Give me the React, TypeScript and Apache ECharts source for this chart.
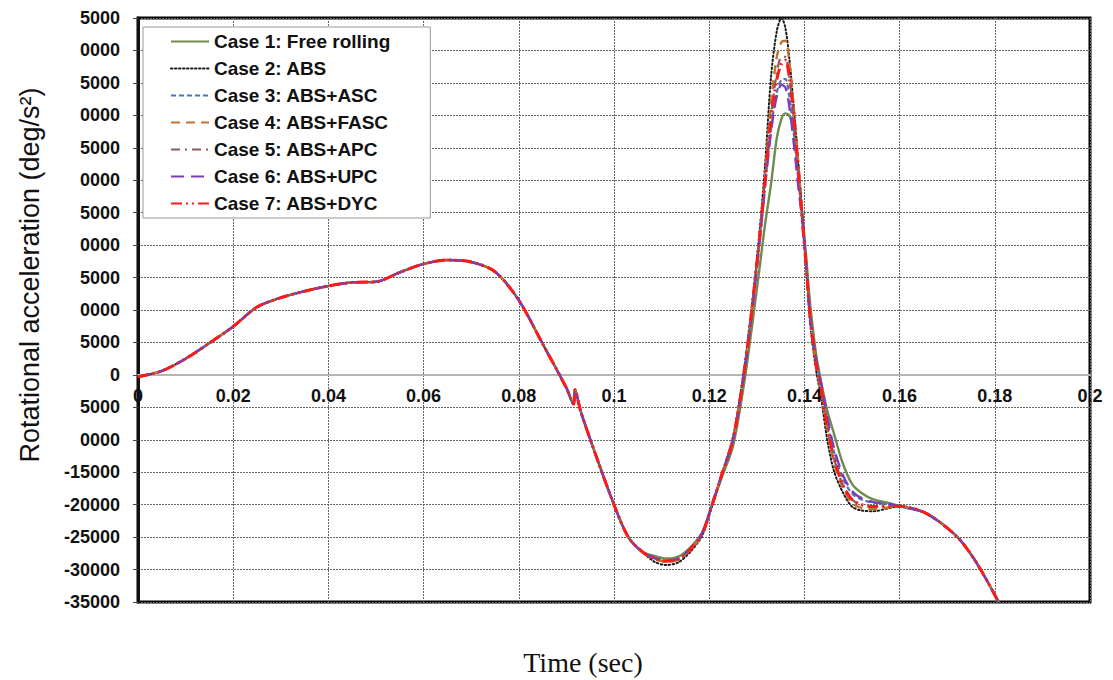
import React, { useEffect, useRef } from "react";
import * as echarts from "echarts";

// ---- Data ----
const xTickLabels = ["0", "0.02", "0.04", "0.06", "0.08", "0.1", "0.12", "0.14", "0.16", "0.18", "0.2"];
// y tick labels top (55000) to bottom (-35000), as they appear in the figure
const yTickLabels = [
  "5000", "0000", "5000", "0000", "5000", "0000", "5000", "0000", "5000", "0000", "5000",
  "0", "5000", "0000", "-15000", "-20000", "-25000", "-30000", "-35000",
];

const caseNames = [
  "Case 1: Free rolling",
  "Case 2: ABS",
  "Case 3: ABS+ASC",
  "Case 4: ABS+FASC",
  "Case 5: ABS+APC",
  "Case 6: ABS+UPC",
  "Case 7: ABS+DYC",
];

// shared early part of the response
const timeEarly = [
  0, 0.005, 0.01, 0.015, 0.02, 0.025, 0.03, 0.035, 0.04, 0.045, 0.05, 0.055, 0.06, 0.065,
  0.07, 0.075, 0.08, 0.085, 0.09, 0.0915, 0.0918, 0.093, 0.096, 0.1, 0.103, 0.106,
];
const valuesEarly = [
  -300, 600, 2500, 4900, 7450, 10450, 11900, 12900, 13700, 14250, 14350, 15800, 17100, 17700,
  17400, 15900, 11500, 4800, -2000, -4500, -2300, -5600, -12000, -20000, -25000, -27300,
];

// part where the cases differ
const timeMid = [
  0.1085, 0.111, 0.1135, 0.116, 0.1185, 0.1206, 0.1228, 0.125, 0.1273, 0.129, 0.1305, 0.1317,
  0.133, 0.1342, 0.1352, 0.136, 0.1368, 0.1378, 0.1388, 0.1396, 0.1404, 0.1412, 0.1425, 0.1435,
  0.1448, 0.1462, 0.148, 0.15, 0.152, 0.1545, 0.158,
];
const case1 = [
  -27900, -28300, -28000, -26600, -24300, -20000, -15500, -11000, -1500, 7500, 16000, 23000,
  29500, 36500, 39500, 40300, 40000, 37800, 30500, 24500, 18000, 11000, 3000, -1000,
  -5500, -9000, -13500, -16800, -18200, -19200, -19800,
];
const case2 = [
  -28800, -29300, -28900, -27300, -24800, -20300, -15000, -9500, 800, 11000, 21500, 32000,
  46000, 53000, 55000, 53500, 49000, 41000, 32000, 24500, 16500, 8000, 500, -3500,
  -10000, -14800, -18000, -20300, -20900, -21000, -20500,
];
const case3 = [
  -28300, -28700, -28400, -26900, -24500, -20000, -15000, -10000, 0, 10000, 20000, 29000,
  38000, 43500, 45500, 45600, 43000, 37000, 29500, 23500, 16500, 9000, 2000, -1500,
  -7000, -11800, -15800, -18300, -19200, -19700, -20000,
];
const case4 = [
  -28400, -28800, -28500, -27000, -24600, -20100, -15000, -9800, 300, 10500, 20800, 30500,
  42000, 49000, 51300, 51500, 48500, 41000, 32000, 23500, 16500, 9000, 1000, -2500,
  -8500, -13500, -17300, -19800, -20500, -20700, -20400,
];
const case5 = [
  -28300, -28700, -28400, -26900, -24500, -20000, -15000, -10000, 200, 10300, 20500, 30000,
  40000, 46500, 49000, 49000, 46000, 39500, 31000, 23500, 16500, 9000, 1500, -2000,
  -8000, -12800, -16800, -19200, -20000, -20300, -20200,
];
const case6 = [
  -28200, -28600, -28300, -26800, -24400, -20000, -15000, -10000, 0, 9800, 19800, 28800,
  37500, 43000, 44700, 44300, 41500, 35500, 28500, 23500, 16500, 9000, 2200, -1200,
  -6500, -11200, -15300, -17900, -19000, -19600, -19900,
];
const case7 = [
  -28300, -28700, -28400, -26900, -24500, -20000, -15000, -10000, 200, 10300, 20500, 29500,
  39500, 45500, 48000, 48500, 46000, 39500, 31000, 23500, 16500, 9000, 1500, -2000,
  -8000, -12800, -16800, -19200, -20000, -20300, -20300,
];

// shared late part
const timeLate = [0.16, 0.1655, 0.172, 0.1762, 0.1808];
const valuesLate = [-20250, -21300, -24900, -29000, -35000];

const caseValues = [case1, case2, case3, case4, case5, case6, case7];

const colors = ["#6F8C4C", "#1a1a1a", "#4A78B8", "#C0742F", "#8B5A5A", "#7A3DC2", "#FF1A1A"];
const dashes: any[] = ["solid", [1.5, 2.5], [5, 3], [9, 6], [9, 5, 2, 5], [13, 7], [11, 4, 2, 4, 2, 4]];
const widths = [2.4, 2, 2.2, 2.4, 2.2, 2.4, 3];

const FONT = "'Liberation Sans', Arial, sans-serif";

export default function App() {
  const ref = useRef<HTMLDivElement>(null);

  useEffect(() => {
    if (!ref.current) return;
    const chart = echarts.init(ref.current, null, { renderer: "svg" });

    const series = caseValues.map((mid, k) => {
      const data: number[][] = [];
      timeEarly.forEach((t, i) => data.push([t, valuesEarly[i]]));
      timeMid.forEach((t, i) => data.push([t, mid[i]]));
      timeLate.forEach((t, i) => data.push([t, valuesLate[i]]));
      return {
        name: caseNames[k],
        type: "line",
        data,
        smooth: 0.3,
        symbol: "none",
        showSymbol: false,
        clip: true,
        lineStyle: { color: colors[k], width: widths[k], type: dashes[k], cap: k === 1 ? "round" : "butt" },
        itemStyle: { color: colors[k] },
        z: 2 + k,
      };
    });

    chart.setOption({
      animation: false,
      backgroundColor: "#fff",
      grid: {
        left: 138,
        right: 23,
        top: 18,
        bottom: 78,
        show: true,
        borderColor: "#000",
        borderWidth: 3,
      },
      legend: {
        orient: "vertical",
        left: 143,
        top: 27,
        backgroundColor: "#fff",
        borderColor: "#999",
        borderWidth: 1,
        padding: [5, 40, 5, 27],
        itemGap: 8,
        itemWidth: 38,
        itemHeight: 14,
        itemStyle: { opacity: 0, color: "transparent", borderWidth: 0 },
        selectedMode: false,
        textStyle: { fontFamily: FONT, fontSize: 19, fontWeight: "bold", color: "#111", lineHeight: 19 },
        data: caseNames,
        z: 20,
      },
      xAxis: {
        type: "value",
        min: 0,
        max: 0.2,
        interval: 0.02,
        position: "bottom",
        offset: -227,
        axisLine: { show: true, onZero: false, lineStyle: { color: "#b5b5b5", width: 2 } },
        axisTick: { show: false },
        axisLabel: {
          margin: 12,
          fontFamily: FONT,
          fontSize: 18,
          fontWeight: "bold",
          color: "#111",
          formatter: (v: number) => xTickLabels[Math.round(v / 0.02)] ?? "",
        },
        splitLine: { show: true, lineStyle: { color: "#666", width: 1, type: [2, 1] } },
      },
      yAxis: {
        type: "value",
        min: -35000,
        max: 55000,
        interval: 5000,
        axisLine: { show: true, onZero: false, lineStyle: { color: "#111", width: 3 } },
        axisTick: { show: true, length: 5, lineStyle: { color: "#444" } },
        axisLabel: {
          margin: 18,
          fontFamily: FONT,
          fontSize: 18,
          fontWeight: "bold",
          color: "#111",
          formatter: (v: number) => yTickLabels[Math.round((55000 - v) / 5000)] ?? "",
        },
        splitLine: { show: true, lineStyle: { color: "#666", width: 1, type: [2, 1] } },
      },
      graphic: [
        {
          type: "text",
          x: 30,
          y: 275,
          rotation: Math.PI / 2,
          style: {
            text: "Rotational acceleration (deg/s²)",
            font: `27px ${FONT}`,
            fill: "#111",
            align: "center",
            verticalAlign: "middle",
          },
        },
        {
          type: "text",
          x: 583,
          y: 662,
          style: {
            text: "Time (sec)",
            font: "28px 'Liberation Serif', 'Times New Roman', serif",
            fill: "#111",
            align: "center",
            verticalAlign: "middle",
          },
        },
      ],
      series,
    });

    return () => chart.dispose();
  }, []);

  return (
    <div
      ref={ref}
      style={{ position: "fixed", left: 0, top: 0, width: 1113, height: 680, background: "#fff" }}
    />
  );
}
